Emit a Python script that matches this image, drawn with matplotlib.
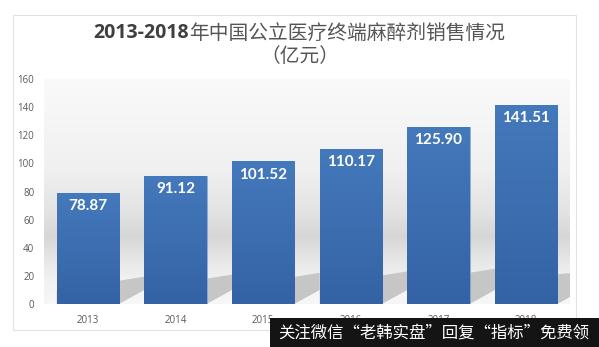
import matplotlib
matplotlib.use("Agg")
import matplotlib.pyplot as plt
import numpy as np
from matplotlib.patches import Rectangle, Polygon
from matplotlib.colors import LinearSegmentedColormap

years = ["2013", "2014", "2015", "2016", "2017", "2018"]
sales = [78.87, 91.12, 101.52, 110.17, 125.90, 141.51]
y_ticks = [0, 20, 40, 60, 80, 100, 120, 140, 160]

title_num = "2013-2018"
title_cjk = "年中国公立医疗终端麻醉剂销售情况"
subtitle = "（亿元）"
banner = "关注微信“老韩实盘”回复“指标”免费领"

W, H = 599, 347
fig = plt.figure(figsize=(W / 100, H / 100), dpi=100)
fig.patch.set_facecolor("white")

# outer chart frame
frame = Rectangle((13 / W, 1 - 330 / H), (576 - 13) / W, (330 - 15) / H,
                  transform=fig.transFigure, facecolor="none",
                  edgecolor="#e2e2e2", linewidth=0.8, zorder=-1)
fig.patches.append(frame)

ax = fig.add_axes([44 / W, 1 - 304 / H, (570 - 44) / W, (304 - 79) / H])
ax.patch.set_alpha(0)

# soft vertical backdrop: light at top, grey band mid-height, light near floor
bg_cmap = LinearSegmentedColormap.from_list(
    "bg",
    [(0.0, "#f7f7f7"), (0.10, "#f2f2f2"), (0.20, "#e6e6e6"),
     (0.30, "#d6d6d6"), (0.40, "#e2e2e2"), (0.60, "#f0f0f0"), (1.0, "#fafafa")])
grad = np.linspace(0, 1, 256).reshape(-1, 1)
ax.imshow(grad, cmap=bg_cmap, aspect="auto", extent=(-0.5, 5.5, 0, 160),
          origin="lower", zorder=0, interpolation="bicubic")

width = 0.71
x = np.arange(len(years))

# floor shadows cast to the upper right of each bar
for xi, v in zip(x, sales):
    xr = xi + width / 2
    gap = min(1 - width, 5.5 - xr)
    rise = 10.0 * gap / (1 - width)
    h = 0.12 * v
    shadow = Polygon([(xi - width / 2, 0), (xr, 0), (xr + gap, rise),
                      (xr + gap, rise + h), (xi - width / 2, h)],
                     closed=True, facecolor="#c6c6c6", edgecolor="none",
                     zorder=1)
    ax.add_patch(shadow)

bars = ax.bar(x, sales, width=width, color="#3e71b3", edgecolor="#8fb0da",
              linewidth=0.4, zorder=2)

bar_cmap = LinearSegmentedColormap.from_list("bar", ["#3463a5", "#4479bb"])
for b in bars:
    x0 = b.get_x()
    im = ax.imshow(grad, cmap=bar_cmap, aspect="auto", origin="lower",
                   extent=(x0, x0 + b.get_width(), 0, b.get_height()),
                   zorder=2.5)
    im.set_clip_path(b)

ax.set_xlim(-0.5, len(years) - 0.5)
ax.set_ylim(0, 160)

for xi, v in zip(x, sales):
    ax.text(xi, v - 9.5, f"{v:.2f}", ha="center", va="center",
            color="white", fontsize=11, fontweight="bold",
            family="Lato", zorder=4)

ax.set_xticks(x)
ax.set_xticklabels(years)
ax.set_yticks(y_ticks)
for lbl in ax.get_xticklabels() + ax.get_yticklabels():
    lbl.set_fontfamily("Open Sans")
    lbl.set_fontsize(7)
    lbl.set_color("#5a5a5a")
ax.tick_params(axis="both", length=0)
ax.tick_params(axis="y", pad=7)
ax.tick_params(axis="x", pad=8)
for s in ax.spines.values():
    s.set_visible(False)

# two-part title: bold digits followed by CJK text, centred as one line
fig.canvas.draw()
r = fig.canvas.get_renderer()
t1 = fig.text(0, 1 - 33 / H, title_num, fontsize=14, fontweight="bold",
              family="Open Sans", color="#3f3f3f", va="center", ha="left")
t2 = fig.text(0, 1 - 33 / H, title_cjk, fontsize=14.2,
              family=["Noto Sans CJK SC", "DejaVu Sans"], color="#555555",
              va="center", ha="left")
w1 = t1.get_window_extent(r).width
w2 = t2.get_window_extent(r).width
start = 299 - (w1 + w2) / 2
t1.set_x(start / W)
t2.set_x((start + w1) / W)
fig.text(300 / W, 1 - 56 / H, subtitle, fontsize=14.2,
         family=["Noto Sans CJK SC", "DejaVu Sans"], color="#555555",
         ha="center", va="center")

# caption strip along the lower right edge
strip = Rectangle((270 / W, 0), (W - 270) / W, (347 - 318) / H,
                  transform=fig.transFigure, facecolor="#141414",
                  edgecolor="none", zorder=10)
fig.patches.append(strip)
fig.text(434 / W, 1 - 333 / H, banner, fontsize=11.8,
         family=["Noto Sans CJK SC", "DejaVu Sans"], color="white",
         ha="center", va="center", zorder=11)

fig.savefig("out.png", dpi=100, facecolor="white")
